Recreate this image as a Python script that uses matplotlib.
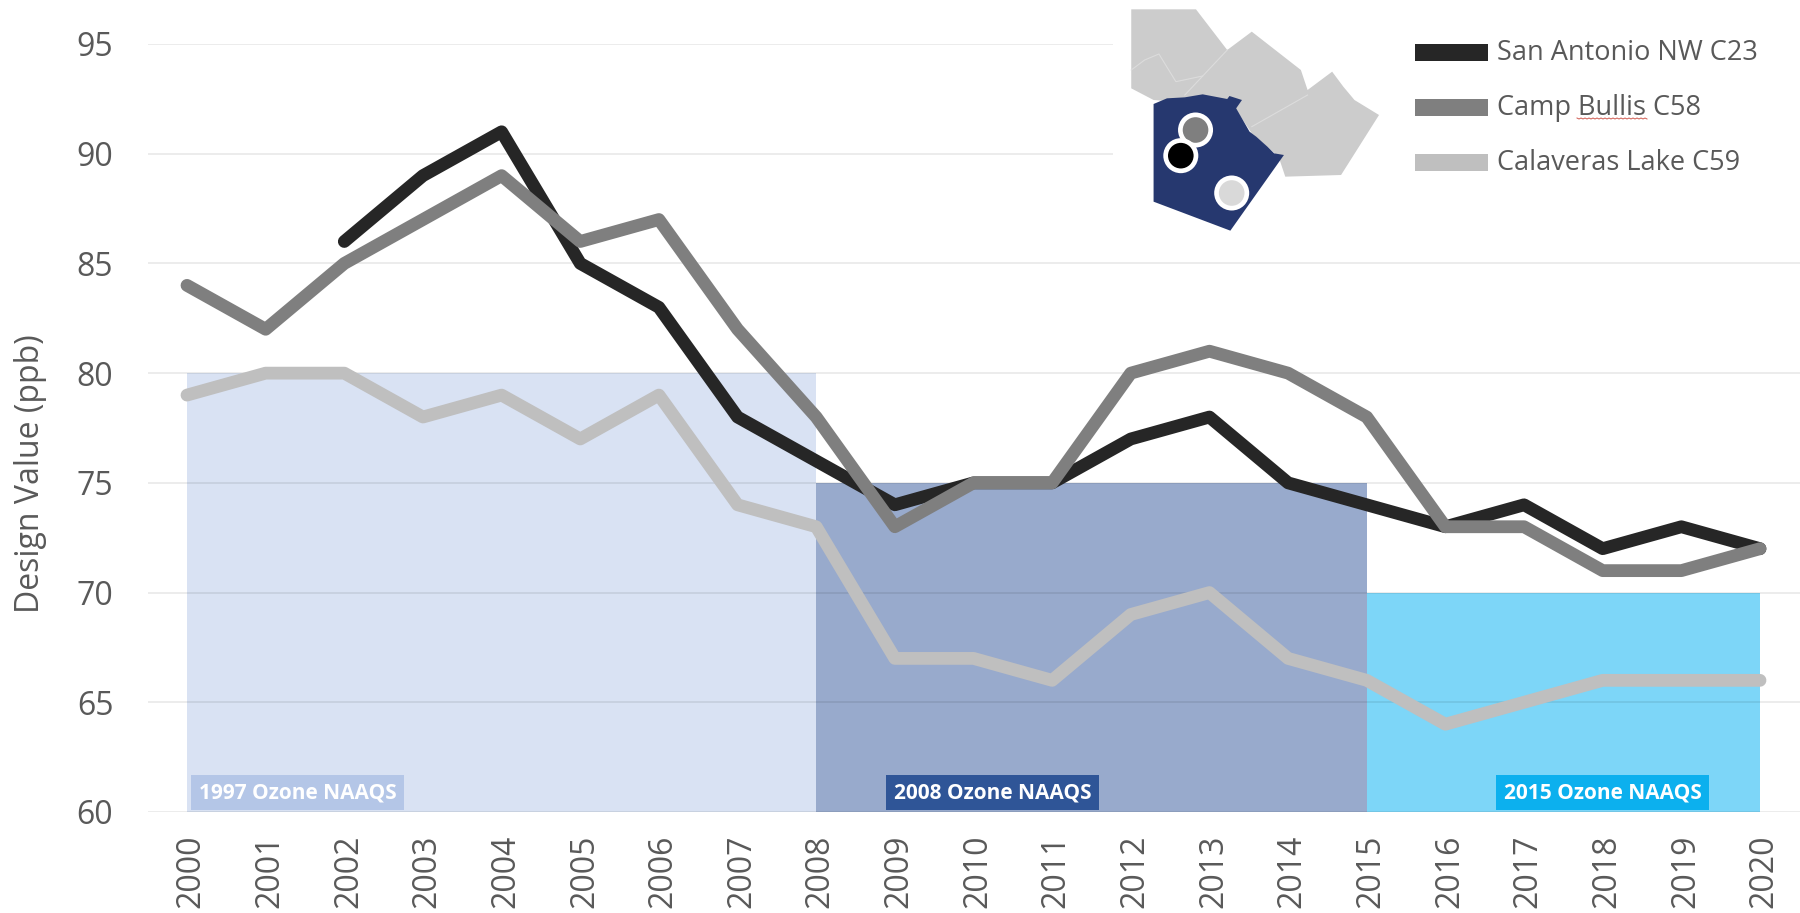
import matplotlib
matplotlib.use('Agg')
import matplotlib.pyplot as plt
from matplotlib.patches import Polygon, Circle, Rectangle
from matplotlib.transforms import ScaledTranslation

years = list(range(2000, 2021))
san_antonio = [None, None, 86, 89, 91, 85, 83, 78, 76, 74, 75, 75, 77, 78, 75, 74, 73, 74, 72, 73, 72]
camp_bullis = [84, 82, 85, 87, 89, 86, 87, 82, 78, 73, 75, 75, 80, 81, 80, 78, 73, 73, 71, 71, 72]
calaveras = [79, 80, 80, 78, 79, 77, 79, 74, 73, 67, 67, 66, 69, 70, 67, 66, 64, 65, 66, 66, 66]

y_ticks = [60, 65, 70, 75, 80, 85, 90, 95]

# start year, end year, level, band colour, label, label colour, label left edge in pixels
standards = [
    (2000, 2008, 80, '#d9e2f3', '1997 Ozone NAAQS', '#b4c6e7', 191),
    (2008, 2015, 75, '#98aacc', '2008 Ozone NAAQS', '#2f5597', 886),
    (2015, 2020, 70, '#7dd6f8', '2015 Ozone NAAQS', '#0cb0ee', 1496),
]

legend_labels = ['San Antonio NW C23', 'Camp Bullis C58', 'Calaveras Lake C59']
line_colors = ['#262626', '#7f7f7f', '#bfbfbf']

surrounding = [(70, 28), (215, 28), (285, 150), (340, 95), (450, 210), (465, 270), (520, 215),
               (545, 260), (570, 300), (625, 345), (540, 525), (415, 530), (400, 470), (340, 400),
               (300, 320), (120, 300), (70, 265)]
county = [(120, 312), (150, 295), (190, 292), (230, 283), (285, 297), (290, 288), (318, 300),
          (305, 325), (320, 360), (335, 395), (350, 410), (375, 440), (390, 460), (412, 465),
          (292, 692), (120, 605)]
border_a = [(70, 210), (100, 180), (132, 162), (170, 245), (230, 228)]
border_b = [(190, 285), (285, 150)]
border_c = [(340, 380), (465, 285)]
monitors = [(214, 390, '#7f7f7f'), (181, 467, '#000000'), (295, 579, '#d9d9d9')]

W, H = 1800, 913
plt.rcParams['font.family'] = ['Open Sans', 'DejaVu Sans']
fig = plt.figure(figsize=(W / 100, H / 100), dpi=100)

ax = fig.add_axes([148 / W, 1 - 812 / H, (W - 148) / W, (812 - 44) / H])
ax.set_xlim(2000 - 39 / 78.65, 2000 + (W - 187) / 78.65)
ax.set_ylim(60, 95)

for start, end, level, color, label, label_color, label_x in standards:
    ax.add_patch(Rectangle((start, 60), end - start, level - 60, color=color, lw=0, zorder=1))

ax.set_yticks(y_ticks)
ax.set_xticks(years)
ax.set_xticklabels(years, rotation=90)
ax.grid(axis='y', color='black', alpha=0.09, lw=1.2, zorder=2)
ax.tick_params(axis='both', length=0, labelcolor='#595959', labelsize=23)
ax.tick_params(axis='y', pad=25)
ax.tick_params(axis='x', pad=16)
for side in ax.spines.values():
    side.set_visible(False)
# the rotated year labels sit a little right of their ticks
shift = ScaledTranslation(3 / 72, 0, fig.dpi_scale_trans)
for tick_label in ax.get_xticklabels():
    tick_label.set_transform(tick_label.get_transform() + shift)
ax.set_ylabel('Design Value (ppb)', fontsize=23, color='#595959')
ax.yaxis.set_label_coords(-0.0611, 0.44)

for values, color, z in zip([san_antonio, camp_bullis, calaveras], line_colors, [3, 3.1, 3.2]):
    ax.plot(years, [float('nan') if v is None else v for v in values], color=color, lw=9.2,
            solid_joinstyle='round', solid_capstyle='round', zorder=z)

# overlay in reference pixels for the map and the legend, it hides the grid underneath
over = fig.add_axes([0, 0, 1, 1], facecolor='none')
over.set_xlim(0, W)
over.set_ylim(H, 0)
over.axis('off')
over.add_patch(Rectangle((1113, 0), W - 1113, 238, color='white', lw=0))


def crop(points):
    return [(1100 + x / 2.24, y / 3) for x, y in points]


over.add_patch(Polygon(crop(surrounding), color='#cccccc', lw=0))
for border in [border_a, border_b, border_c]:
    xs, ys = zip(*crop(border))
    over.plot(xs, ys, color='#dcdcdc', lw=0.8)
over.add_patch(Polygon(crop(county), color='#26386f', lw=0))
for x, y, color in monitors:
    (cx, cy), = crop([(x, y)])
    over.add_patch(Circle((cx, cy), 17.5, color='white', lw=0))
    over.add_patch(Circle((cx, cy), 12.8, color=color, lw=0))

for y, label, color in zip([53, 108, 163], legend_labels, line_colors):
    over.add_patch(Rectangle((1415, y - 8.5), 72.5, 17, color=color, lw=0))
    over.text(1497, y, label, fontsize=19.5, color='#595959', va='center', ha='left')

# spell check squiggle under Bullis
squiggle_x = list(range(1577, 1648, 2))
over.plot(squiggle_x, [118 + (i % 2) for i in range(len(squiggle_x))], color='#d05a50', lw=0.7)

for start, end, level, color, label, label_color, label_x in standards:
    over.add_patch(Rectangle((label_x, 775), 213, 35, color=label_color, lw=0))
    over.text(label_x + 106.5, 793, label, color='white', fontsize=15, fontweight='bold',
              ha='center', va='center')

fig.savefig('out.png', dpi=100)
